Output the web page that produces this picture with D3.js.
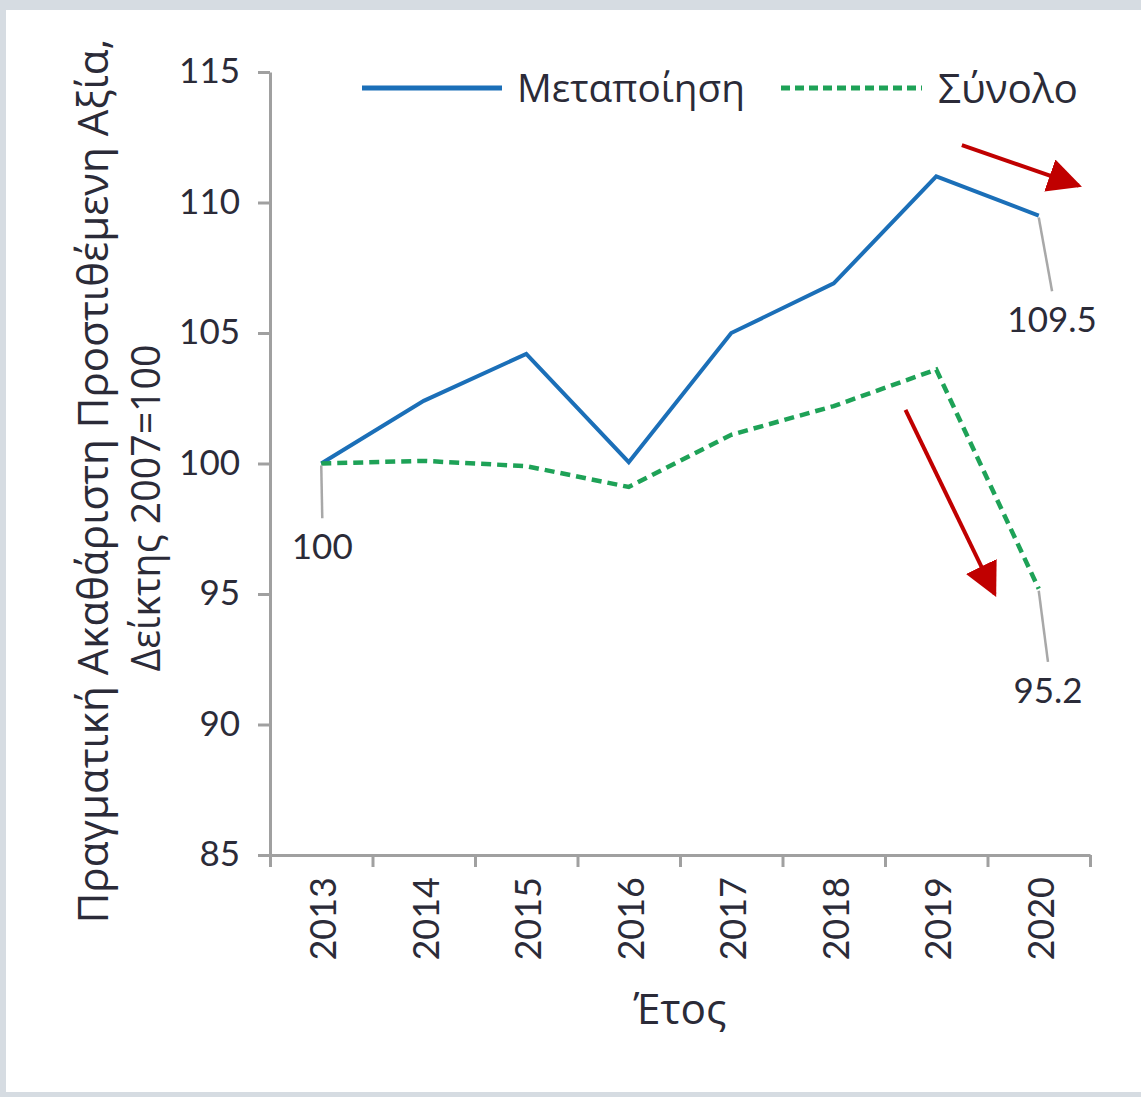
<!DOCTYPE html>
<html><head><meta charset="utf-8">
<script src="https://cdn.jsdelivr.net/npm/d3@7"></script>
<style>
html,body{margin:0;padding:0;background:#d6dce2;}
svg{display:block;}
</style></head>
<body>
<svg id="c" width="1141" height="1097"></svg>
<script>
const years = ["2013","2014","2015","2016","2017","2018","2019","2020"];
const manufacturing = [100, 102.4, 104.2, 100.05, 105.0, 106.9, 111.0, 109.5];
const total = [100, 100.1, 99.9, 99.1, 101.1, 102.2, 103.6, 95.2];
const yTicks = [85, 90, 95, 100, 105, 110, 115];
const seriesNames = ["Μεταποίηση", "Σύνολο"];
const yTitle = ["Πραγματική Ακαθάριστη Προστιθέμενη Αξία,", "Δείκτης 2007=100"];
const xTitle = "Έτος";
// value labels: series index, year index, text, leader end (index, value)
const valueLabels = [
  {s:1, i:0, text:"100", li:0.01, lv:97.9},
  {s:0, i:7, text:"109.5", li:7.13, lv:106.6},
  {s:1, i:7, text:"95.2", li:7.09, lv:92.4}
];
// trend arrows in data space (year index, value)
const arrows = [
  {i0:6.25, v0:112.2, i1:7.39, v1:110.65},
  {i0:5.70, v0:102.05, i1:6.57, v1:95.0}
];

const svg = d3.select("#c");
const NUMFONT = "Lato, 'Noto Sans', sans-serif";
const FONT = "'Open Sans', 'Noto Sans', sans-serif";
const TXT = "#2b2b38";
const AX = "#a0a0a0";

function fit(sel, target){
  const w = sel.node().getComputedTextLength();
  const fs = parseFloat(sel.attr("font-size"));
  sel.attr("font-size", fs*target/w);
}

// white panel
svg.append("rect").attr("x",6).attr("y",10).attr("width",1135).attr("height",1082).attr("fill","#ffffff");

const m = {left:270, right:1090, top:72, bottom:855};
const xi = d3.scaleLinear().domain([0, years.length]).range([m.left, m.right]);
const xc = i => xi(i + 0.5);
const y = d3.scaleLinear().domain([85,115]).range([m.bottom, m.top]);

// Y axis
const yAxis = d3.axisLeft(y).tickValues(yTicks).tickSize(12).tickPadding(18).tickSizeOuter(0);
const gy = svg.append("g").attr("transform",`translate(${m.left},0)`).call(yAxis);
gy.select(".domain").attr("stroke",AX).attr("stroke-width",3);
gy.selectAll(".tick line").attr("stroke",AX).attr("stroke-width",3);
gy.selectAll(".tick text").attr("font-family",NUMFONT).attr("font-size",35).attr("fill",TXT).attr("dy","0.3em");

// X axis
const xAxis = d3.axisBottom(xi).tickValues(d3.range(years.length+1)).tickSize(12).tickFormat("").tickSizeOuter(0);
const gx = svg.append("g").attr("transform",`translate(0,${m.bottom})`).call(xAxis);
gx.select(".domain").attr("stroke",AX).attr("stroke-width",3);
gx.selectAll(".tick line").attr("stroke",AX).attr("stroke-width",3);
svg.append("g").selectAll("text").data(years).join("text")
  .attr("transform",(d,i)=>`translate(${xc(i)+2},${m.bottom+22}) rotate(-90)`)
  .attr("text-anchor","end").attr("dy","0.36em")
  .attr("font-family",NUMFONT).attr("font-size",36).attr("fill",TXT)
  .text(d=>d);

// axis titles
const yt1 = svg.append("text").attr("transform",`translate(108,481) rotate(-90)`)
  .attr("text-anchor","middle").attr("font-family",FONT).attr("font-size",32).attr("fill",TXT).text(yTitle[0]);
fit(yt1, 885);
const yt2 = svg.append("text").attr("transform",`translate(160,508) rotate(-90)`)
  .attr("text-anchor","middle").attr("font-family",FONT).attr("font-size",32).attr("fill",TXT).text(yTitle[1]);
fit(yt2, 327);
const xt = svg.append("text").attr("x",680).attr("y",1024).attr("text-anchor","middle")
  .attr("font-family",FONT).attr("font-size",34).attr("fill",TXT).text(xTitle);
fit(xt, 93);

// lines
const line = d3.line().x((d,i)=>xc(i)).y(d=>y(d));
const colors = ["#1b6fb8","#1ea257"];
svg.append("path").datum(manufacturing).attr("d",line).attr("fill","none")
  .attr("stroke",colors[0]).attr("stroke-width",4).attr("stroke-linejoin","miter");
svg.append("path").datum(total).attr("d",line).attr("fill","none")
  .attr("stroke",colors[1]).attr("stroke-width",4.5).attr("stroke-dasharray","10,6");

// value labels with leaders
const series = [manufacturing,total];
valueLabels.forEach(l=>{
  const px = xc(l.i), py = y(series[l.s][l.i]);
  const lx = xc(l.li), ly = y(l.lv);
  svg.append("line").attr("x1",px).attr("y1",py+2).attr("x2",lx).attr("y2",ly)
    .attr("stroke","#a8a8a8").attr("stroke-width",2.5);
  svg.append("text").attr("x",lx).attr("y",ly+41).attr("text-anchor","middle")
    .attr("font-family",NUMFONT).attr("font-size",35).attr("fill",TXT).text(l.text);
});

// arrows
const defs = svg.append("defs");
defs.append("marker").attr("id","ah").attr("viewBox","0 0 10 10").attr("refX",9).attr("refY",5)
  .attr("markerWidth",8.5).attr("markerHeight",8.5).attr("markerUnits","strokeWidth").attr("orient","auto")
  .append("path").attr("d","M0,0 L10,5 L0,10 Z").attr("fill","#c00000");
arrows.forEach(a=>{
  svg.append("line").attr("x1",xc(a.i0)).attr("y1",y(a.v0)).attr("x2",xc(a.i1)).attr("y2",y(a.v1))
    .attr("stroke","#c00000").attr("stroke-width",4).attr("marker-end","url(#ah)");
});

// legend
const lg = svg.append("g");
const legendItems = [
  {name:seriesNames[0], x0:362, x1:502, tx:517, tw:228, color:colors[0], dash:null, w:5},
  {name:seriesNames[1], x0:781, x1:922, tx:938, tw:140, color:colors[1], dash:"9,5", w:5}
];
legendItems.forEach(d=>{
  lg.append("line").attr("x1",d.x0).attr("x2",d.x1).attr("y1",88).attr("y2",88)
    .attr("stroke",d.color).attr("stroke-width",d.w).attr("stroke-dasharray",d.dash);
  const t = lg.append("text").attr("x",d.tx).attr("y",88).attr("dy","0.36em")
    .attr("font-family",FONT).attr("font-size",34).attr("fill",TXT).text(d.name);
  fit(t, d.tw);
});
</script>
</body></html>
